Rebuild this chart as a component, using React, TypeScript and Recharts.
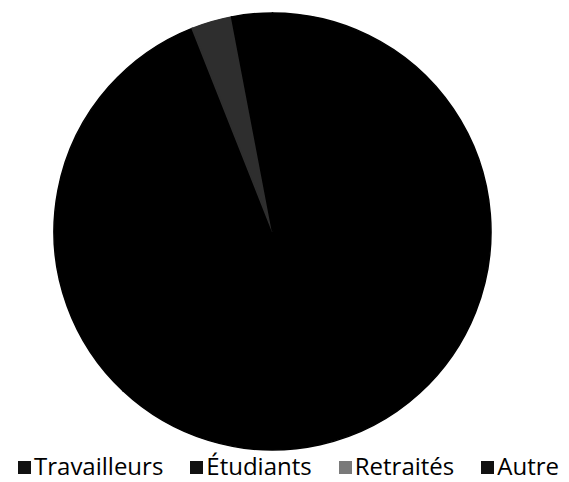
import React from "react";
import { PieChart, Pie, Cell, Legend } from "recharts";

const categories = ["Travailleurs", "Étudiants", "Retraités", "Autre"];
const values = [62, 32, 3, 3];
const sliceColors = ["#000000", "#000000", "#2e2e2e", "#000000"];
const legendColors = ["#111111", "#111111", "#7a7a7a", "#111111"];

const data = categories.map((name, i) => ({ name, value: values[i] }));

const renderLegend = () => (
  <div
    style={{
      display: "flex",
      justifyContent: "center",
      gap: "27px",
      fontFamily: "'Open Sans', sans-serif",
      fontSize: "24px",
      color: "#000",
      lineHeight: "32px",
      height: 32,
      whiteSpace: "nowrap",
    }}
  >
    {categories.map((c, i) => (
      <div key={c} style={{ display: "flex", alignItems: "center" }}>
        <span
          style={{
            display: "inline-block",
            width: 13,
            height: 13,
            background: legendColors[i],
            marginRight: 3,
            marginTop: 3,
          }}
        />
        <span>{c}</span>
      </div>
    ))}
  </div>
);

export default function App() {
  return (
    <PieChart width={561} height={474} margin={{ top: 0, right: 0, bottom: 0, left: 0 }}>
      <Pie
        data={data}
        dataKey="value"
        nameKey="name"
        cx={264.5}
        cy={223.5}
        outerRadius={218.5}
        startAngle={90}
        endAngle={-270}
        isAnimationActive={false}
      >
        {data.map((d, i) => (
          <Cell key={d.name} fill={sliceColors[i]} stroke={sliceColors[i]} strokeWidth={1.5} />
        ))}
      </Pie>
      <Legend
        content={renderLegend}
        wrapperStyle={{ position: "absolute", top: 442, left: 0, width: 561 }}
      />
    </PieChart>
  );
}
